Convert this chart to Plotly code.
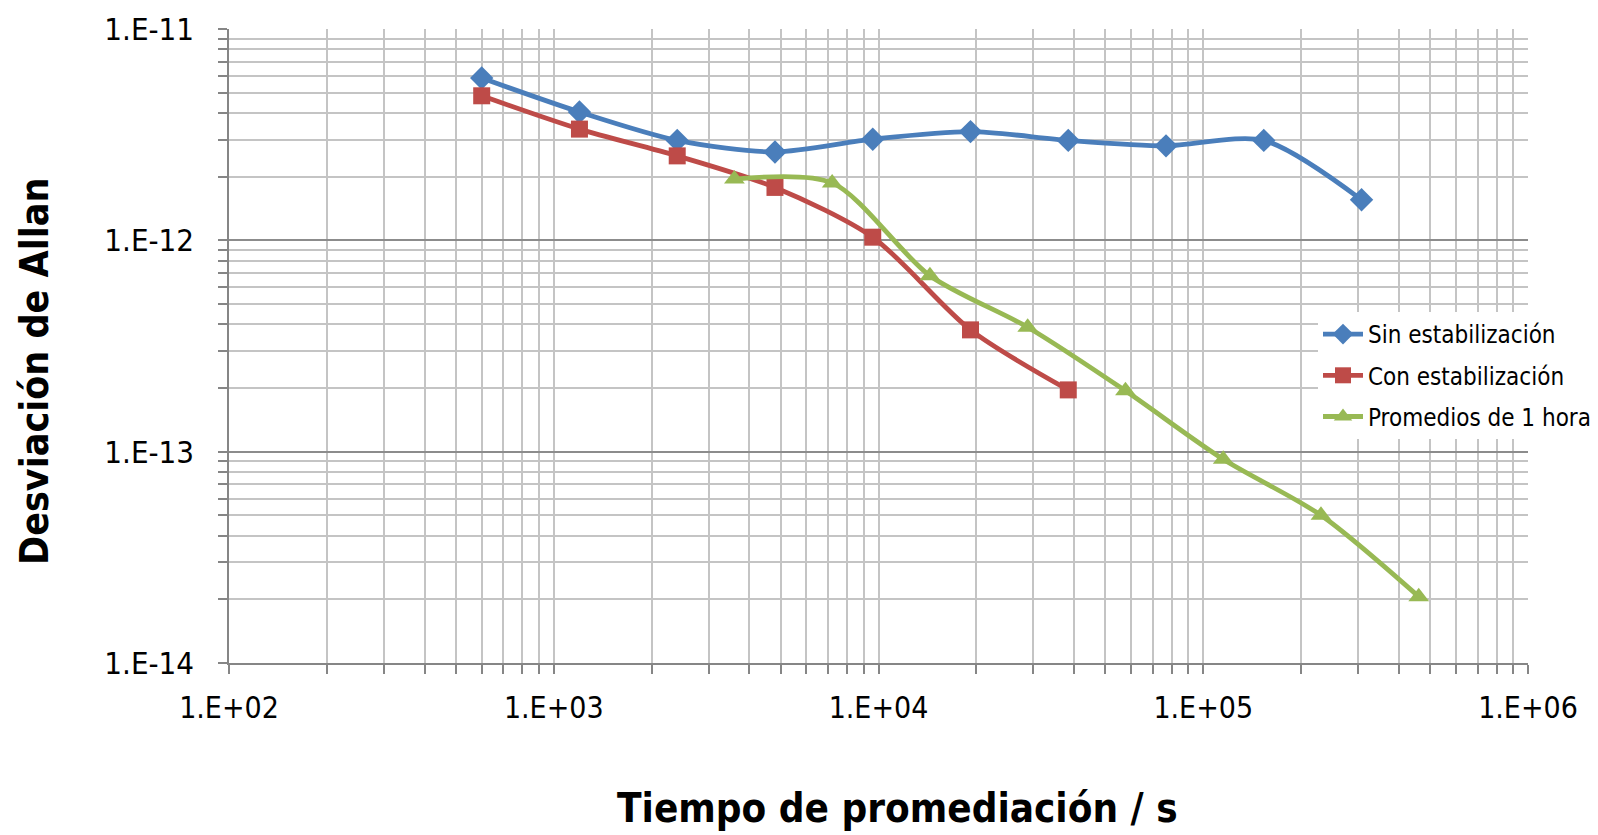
import plotly.graph_objects as go

# Averaging times (s) and Allan deviation values for each series
tau_sin = [600, 1200, 2400, 4800, 9600, 19200, 38400, 76800, 153600, 307200]
adev_sin = [5.86e-12, 4.05e-12, 2.97e-12, 2.62e-12, 3.01e-12, 3.27e-12, 2.97e-12, 2.80e-12, 2.97e-12, 1.555e-12]

tau_con = [600, 1200, 2400, 4800, 9600, 19200, 38400]
adev_con = [4.83e-12, 3.36e-12, 2.51e-12, 1.78e-12, 1.035e-12, 3.77e-13, 1.96e-13]

tau_hora = [3600, 7200, 14400, 28800, 57600, 115200, 230400, 460800]
adev_hora = [1.95e-12, 1.87e-12, 6.8e-13, 3.88e-13, 1.94e-13, 9.2e-14, 5.0e-14, 2.06e-14]

x_tickvals = [1e2, 1e3, 1e4, 1e5, 1e6]
x_ticktext = ["1.E+02", "1.E+03", "1.E+04", "1.E+05", "1.E+06"]
y_tickvals = [1e-14, 1e-13, 1e-12, 1e-11]
y_ticktext = ["1.E-14", "1.E-13", "1.E-12", "1.E-11"]

FONT = "DejaVu Sans Condensed, Liberation Sans Narrow, Liberation Sans, sans-serif"
W, H = 1598, 835
ML, MR, MT, MB = 229, 70, 29, 172
PW, PH = W - ML - MR, H - MT - MB

fig = go.Figure()
series = [
    ("Sin estabilización", tau_sin, adev_sin, "#4A7EBB", "diamond", 18),
    ("Con estabilización", tau_con, adev_con, "#BE4B48", "square", 17),
    ("Promedios de 1 hora", tau_hora, adev_hora, "#98B954", "triangle-up", 18),
]
for name, xs, ys, col, sym, sz in series:
    fig.add_trace(go.Scatter(
        x=xs, y=ys, name=name, legendgroup=name, mode="lines+markers",
        line=dict(color=col, width=4.8, shape="spline", smoothing=0.8),
        marker=dict(symbol=sym, size=sz, color=col, line=dict(width=0)),
    ))

axis_common = dict(
    type="log",
    ticks="outside", ticklen=9, tickcolor="#868686", tickwidth=1.5,
    showline=True, linecolor="#868686", linewidth=1.5,
    showgrid=True, gridwidth=1.5,
    minor=dict(dtick="D1", showgrid=True, gridcolor="#C4C4C4", gridwidth=1.5,
               ticks="outside", ticklen=9, tickcolor="#868686", tickwidth=1.5),
    zeroline=False, automargin=False,
)

fig.update_layout(
    width=W, height=H,
    margin=dict(l=ML, r=MR, t=MT, b=MB, autoexpand=False),
    paper_bgcolor="white", plot_bgcolor="white",
    font=dict(family=FONT, color="black"),
    showlegend=True,
    legend=dict(
        x=(1318 - ML) / PW, y=(H - MB - 312) / PH,
        xanchor="left", yanchor="top",
        bgcolor="white", borderwidth=0,
        font=dict(family=FONT, size=24, color="black"),
        tracegroupgap=7, itemwidth=40,
    ),
    xaxis=dict(axis_common, range=[2, 6],
               tickvals=x_tickvals, ticktext=x_ticktext,
               tickfont=dict(family=FONT, size=30),
               gridcolor="#C4C4C4", ticklabelstandoff=8),
    yaxis=dict(axis_common, range=[-14, -11],
               tickvals=y_tickvals, ticktext=y_ticktext,
               tickfont=dict(family=FONT, size=31),
               gridcolor="#8C8C8C", ticklabelstandoff=18),
    annotations=[
        dict(text="<b>Tiempo de promediación / s</b>", xref="paper", yref="paper",
             x=(897 - ML) / PW, y=-(808 - (H - MB)) / PH,
             xanchor="center", yanchor="middle", showarrow=False,
             font=dict(family=FONT, size=40, color="black")),
        dict(text="<b>Desviación de Allan</b>", xref="paper", yref="paper",
             x=-(ML - 34) / PW, y=(H - MB - 372) / PH,
             xanchor="center", yanchor="middle", showarrow=False, textangle=-90,
             font=dict(family=FONT, size=39, color="black")),
    ],
)

fig.write_html("out.html")
